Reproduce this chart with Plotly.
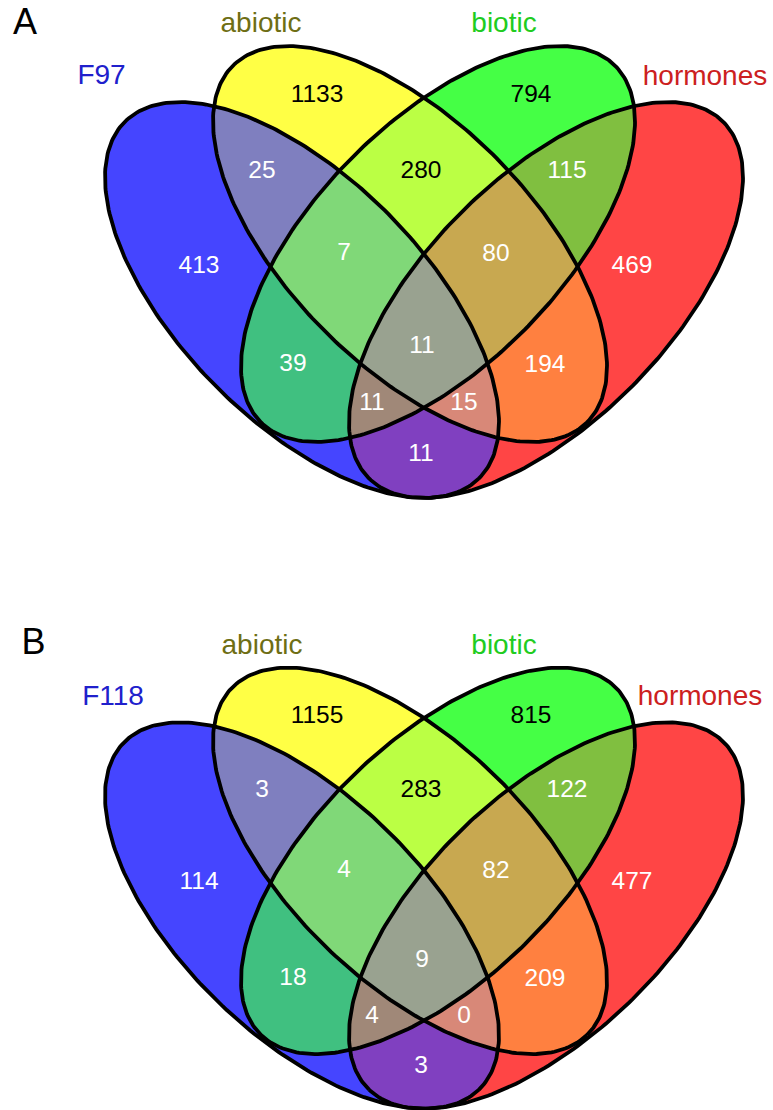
import numpy as np
import plotly.graph_objects as go

# ---------------- data ----------------
sets_A = ["F97", "abiotic", "biotic", "hormones"]
sets_B = ["F118", "abiotic", "biotic", "hormones"]
panel_letters = ["A", "B"]
# membership code: (F, abiotic, biotic, hormones)
region_keys = ["1000", "0100", "0010", "0001",
               "1100", "1010", "1001", "0110", "0101", "0011",
               "1110", "1101", "1011", "0111", "1111"]
counts_A = [413, 1133, 794, 469, 25, 39, 11, 280, 194, 115, 7, 15, 11, 80, 11]
counts_B = [114, 1155, 815, 477, 3, 18, 3, 283, 209, 122, 4, 0, 4, 82, 9]

# ---------------- style / layout ----------------
W, H = 773, 1110
FONT = "Liberation Sans, Arial, sans-serif"
region_colors = {
    "1000": "#4545FF", "0100": "#FFFF45", "0010": "#45FF45", "0001": "#FF4545",
    "1100": "#7F7FBF", "1010": "#40C080", "1001": "#8040C0",
    "0110": "#BBFF44", "0101": "#FF8040", "0011": "#80BF40",
    "1110": "#80D878", "1101": "#D88878", "1011": "#A08878", "0111": "#C8A850",
    "1111": "#99A290",
}
dark_text = {"0100", "0010", "0110"}
set_label_colors = ["#2020CC", "#6E6E14", "#20CC20", "#CC2020"]

# ellipse geometry (panel units)
A_AX, B_AX, PHI = 251.3, 121.9, np.deg2rad(45.23)
ellipses = [(302, 300, PHI), (410, 244, PHI), (438, 244, np.pi - PHI), (546, 300, np.pi - PHI)]

region_pos = {
    "1000": (199, 267), "0100": (317, 96), "0010": (531, 96), "0001": (632, 267),
    "1100": (262, 172), "1010": (293, 365), "1001": (421, 455), "0110": (421, 172),
    "0101": (545, 366), "0011": (567, 172), "1110": (344, 254), "1101": (464, 404),
    "1011": (372, 404), "0111": (496, 255), "1111": (422, 347),
}
set_label_pos = [
    [(101.5, 77), (261, 25), (504, 25), (705, 78)],
    [(113, 77), (262, 25), (504, 25), (700, 77)],
]
letter_pos = [(25, 25), (33.5, 23)]
# y-axis ranges for the two panels (panel units), domains in figure fraction
y_ranges = [[555, 0], [499.3, -69.4]]
y_domains = [[0.5, 1.0], [0.0, 0.5]]


def ellipse_pts(cx, cy, phi, n=300):
    t = np.linspace(0, 2 * np.pi, n, endpoint=False)
    x = cx + A_AX * np.cos(t) * np.cos(phi) - B_AX * np.sin(t) * np.sin(phi)
    y = cy + A_AX * np.cos(t) * np.sin(phi) + B_AX * np.sin(t) * np.cos(phi)
    return [(float(a), float(b)) for a, b in zip(x, y)]


def area(poly):
    s = 0.0
    for i in range(len(poly)):
        x1, y1 = poly[i]
        x2, y2 = poly[(i + 1) % len(poly)]
        s += x1 * y2 - x2 * y1
    return s / 2


def clip(subject, clipper):
    orient = 1 if area(clipper) > 0 else -1

    def inside(p, a, b):
        return orient * ((b[0] - a[0]) * (p[1] - a[1]) - (b[1] - a[1]) * (p[0] - a[0])) >= 0

    def inter(s, e, a, b):
        dcx, dcy = a[0] - b[0], a[1] - b[1]
        dpx, dpy = s[0] - e[0], s[1] - e[1]
        n1 = a[0] * b[1] - a[1] * b[0]
        n2 = s[0] * e[1] - s[1] * e[0]
        den = dcx * dpy - dcy * dpx
        return ((n1 * dpx - n2 * dcx) / den, (n1 * dpy - n2 * dcy) / den)

    out = subject
    for i in range(len(clipper)):
        a, b = clipper[i], clipper[(i + 1) % len(clipper)]
        inp, out = out, []
        if not inp:
            break
        s = inp[-1]
        for e in inp:
            if inside(e, a, b):
                if not inside(s, a, b):
                    out.append(inter(s, e, a, b))
                out.append(e)
            elif inside(s, a, b):
                out.append(inter(s, e, a, b))
            s = e
    return out


polys = [ellipse_pts(*e) for e in ellipses]
region_polys = {}
for key in region_keys:
    idx = [i for i, c in enumerate(key) if c == "1"]
    p = polys[idx[0]]
    for j in idx[1:]:
        p = clip(p, polys[j])
    region_polys[key] = p
paint_order = sorted(region_keys, key=lambda k: k.count("1"))

fig = go.Figure()
for pi, (counts, sets) in enumerate([(counts_A, sets_A), (counts_B, sets_B)]):
    ya = "y" if pi == 0 else "y2"
    # filled regions
    for key in paint_order:
        p = region_polys[key]
        xs = [q[0] for q in p] + [p[0][0]]
        ys = [q[1] for q in p] + [p[0][1]]
        fig.add_trace(go.Scatter(x=xs, y=ys, yaxis=ya, mode="lines", fill="toself",
                                 fillcolor=region_colors[key], line=dict(width=0, color=region_colors[key]),
                                 hoverinfo="skip", showlegend=False))
    # outlines
    for p in polys:
        xs = [q[0] for q in p] + [p[0][0]]
        ys = [q[1] for q in p] + [p[0][1]]
        fig.add_trace(go.Scatter(x=xs, y=ys, yaxis=ya, mode="lines",
                                 line=dict(width=3.8, color="black"),
                                 hoverinfo="skip", showlegend=False))
    # counts
    fig.add_trace(go.Scatter(
        x=[region_pos[k][0] for k in region_keys],
        y=[region_pos[k][1] for k in region_keys],
        yaxis=ya, mode="text", text=[str(c) for c in counts],
        textposition="middle center",
        textfont=dict(family=FONT, size=24.5,
                      color=["black" if k in dark_text else "white" for k in region_keys]),
        hoverinfo="skip", showlegend=False))
    # set labels
    fig.add_trace(go.Scatter(
        x=[q[0] for q in set_label_pos[pi]], y=[q[1] for q in set_label_pos[pi]],
        yaxis=ya, mode="text", text=sets, textposition="middle center",
        textfont=dict(family=FONT, size=28, color=set_label_colors),
        hoverinfo="skip", showlegend=False))
    # panel letter
    fig.add_trace(go.Scatter(
        x=[letter_pos[pi][0]], y=[letter_pos[pi][1]], yaxis=ya, mode="text",
        text=[panel_letters[pi]], textposition="middle center",
        textfont=dict(family=FONT, size=36, color="black"),
        hoverinfo="skip", showlegend=False))

axis_common = dict(visible=False, showgrid=False, zeroline=False, fixedrange=True)
fig.update_layout(
    width=W, height=H, margin=dict(l=0, r=0, t=0, b=0),
    paper_bgcolor="white", plot_bgcolor="white",
    xaxis=dict(range=[0, W], domain=[0, 1], **axis_common),
    yaxis=dict(range=y_ranges[0], domain=y_domains[0], **axis_common),
    yaxis2=dict(range=y_ranges[1], domain=y_domains[1], anchor="x", **axis_common),
)
fig.write_html("out.html", config={"displayModeBar": False},
               post_script="document.body.style.margin='0';document.body.style.overflow='hidden';")
